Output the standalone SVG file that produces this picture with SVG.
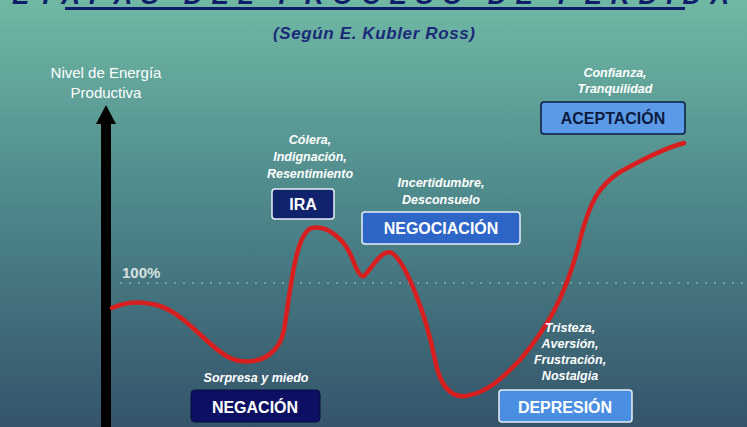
<svg xmlns="http://www.w3.org/2000/svg" width="747" height="427" viewBox="0 0 747 427">
<defs>
<linearGradient id="bg" x1="0" y1="0" x2="0" y2="1">
<stop offset="0" stop-color="#70b8a4"/><stop offset="0.45" stop-color="#4f8a8c"/><stop offset="1" stop-color="#34546a"/>
</linearGradient>
</defs>
<style>
.n{font-family:"Liberation Sans",Arial,sans-serif;font-weight:bold;font-size:16px;fill:#fff;text-anchor:middle}
.d{font-family:"Liberation Sans",Arial,sans-serif;font-weight:bold;font-style:italic;font-size:12.5px;fill:#fff;text-anchor:middle}
.b{stroke:#e8eef8;stroke-width:1.5}
</style>
<rect width="747" height="427" fill="url(#bg)"/>
<text x="375" y="4" font-family="Liberation Sans,Arial,sans-serif" font-weight="bold" font-style="italic" font-size="26" fill="#0f1d6a" text-anchor="middle" letter-spacing="9">ETAPAS DEL PROCESO DE PÉRDIDA</text>
<rect x="65" y="7" width="620" height="3" fill="#0f1d6a"/>
<text x="374" y="39" font-family="Liberation Sans,Arial,sans-serif" font-weight="bold" font-style="italic" font-size="17" fill="#1a2a78" text-anchor="middle" textLength="202">(Según E. Kubler Ross)</text>
<text x="106" y="78" font-family="Liberation Sans,Arial,sans-serif" font-size="15" fill="#fff" text-anchor="middle">Nivel de Energía</text>
<text x="106" y="98" font-family="Liberation Sans,Arial,sans-serif" font-size="15" fill="#fff" text-anchor="middle">Productiva</text>
<g id="axis">
<rect x="101" y="122" width="10" height="305" fill="#000"/>
<polygon points="106,105 96,124 116,124" fill="#000"/>
</g>
<line x1="120" y1="283" x2="747" y2="283" stroke="#7f9a9c" stroke-width="2" stroke-dasharray="2,7"/>
<text x="122" y="278" font-family="Liberation Sans,Arial,sans-serif" font-weight="bold" font-size="15" fill="#d8e0e0">100%</text>
<g id="connectors">
<path d="M112,308 C125,302 140,300 160,306 C190,316 215,358 240,361 C265,364 280,350 284,330 C290,295 295,232 312,228 C328,225 345,240 352,258 C356,268 360,278 364,276 C372,268 382,248 392,253 C405,262 425,310 435,360 C440,385 450,398 466,396 C490,392 505,375 520,360 C545,330 565,300 580,240 C590,200 600,185 620,172 C645,158 665,148 684,143" fill="none" stroke="#d81f1f" stroke-width="4.5" stroke-linecap="round"/>
</g>
<g id="ira">
<text class="d" x="310" y="144">Cólera,</text>
<text class="d" x="310" y="161">Indignación,</text>
<text class="d" x="310" y="178">Resentimiento</text>
<rect x="272" y="189" width="62" height="30" rx="3" fill="#12236e" class="b"/>
<text class="n" x="303" y="210">IRA</text>
</g>
<g id="negociacion">
<text class="d" x="441" y="187">Incertidumbre,</text>
<text class="d" x="441" y="204">Desconsuelo</text>
<rect x="362" y="212" width="158" height="32" rx="3" fill="#2e66c8" class="b"/>
<text class="n" x="441" y="234">NEGOCIACIÓN</text>
</g>
<g id="aceptacion">
<text class="d" x="615" y="77">Confianza,</text>
<text class="d" x="615" y="93">Tranquilidad</text>
<rect x="541" y="102" width="144" height="32" rx="3" fill="#5b9ae6" stroke="#0d1a40" stroke-width="1.5"/>
<text class="n" x="613" y="124" style="fill:#0d1a40">ACEPTACIÓN</text>
</g>
<g id="negacion">
<text class="d" x="256" y="382">Sorpresa y miedo</text>
<rect x="191" y="390" width="129" height="32" rx="4" fill="#0c0f62" stroke="#0a0d40" stroke-width="1"/>
<text class="n" x="255" y="413">NEGACIÓN</text>
</g>
<g id="depresion">
<text class="d" x="570" y="332">Tristeza,</text>
<text class="d" x="570" y="348">Aversión,</text>
<text class="d" x="570" y="364">Frustración,</text>
<text class="d" x="570" y="380">Nostalgia</text>
<rect x="499" y="390" width="133" height="32" rx="3" fill="#4a8ee2" class="b"/>
<text class="n" x="565" y="413">DEPRESIÓN</text>
</g>
</svg>
